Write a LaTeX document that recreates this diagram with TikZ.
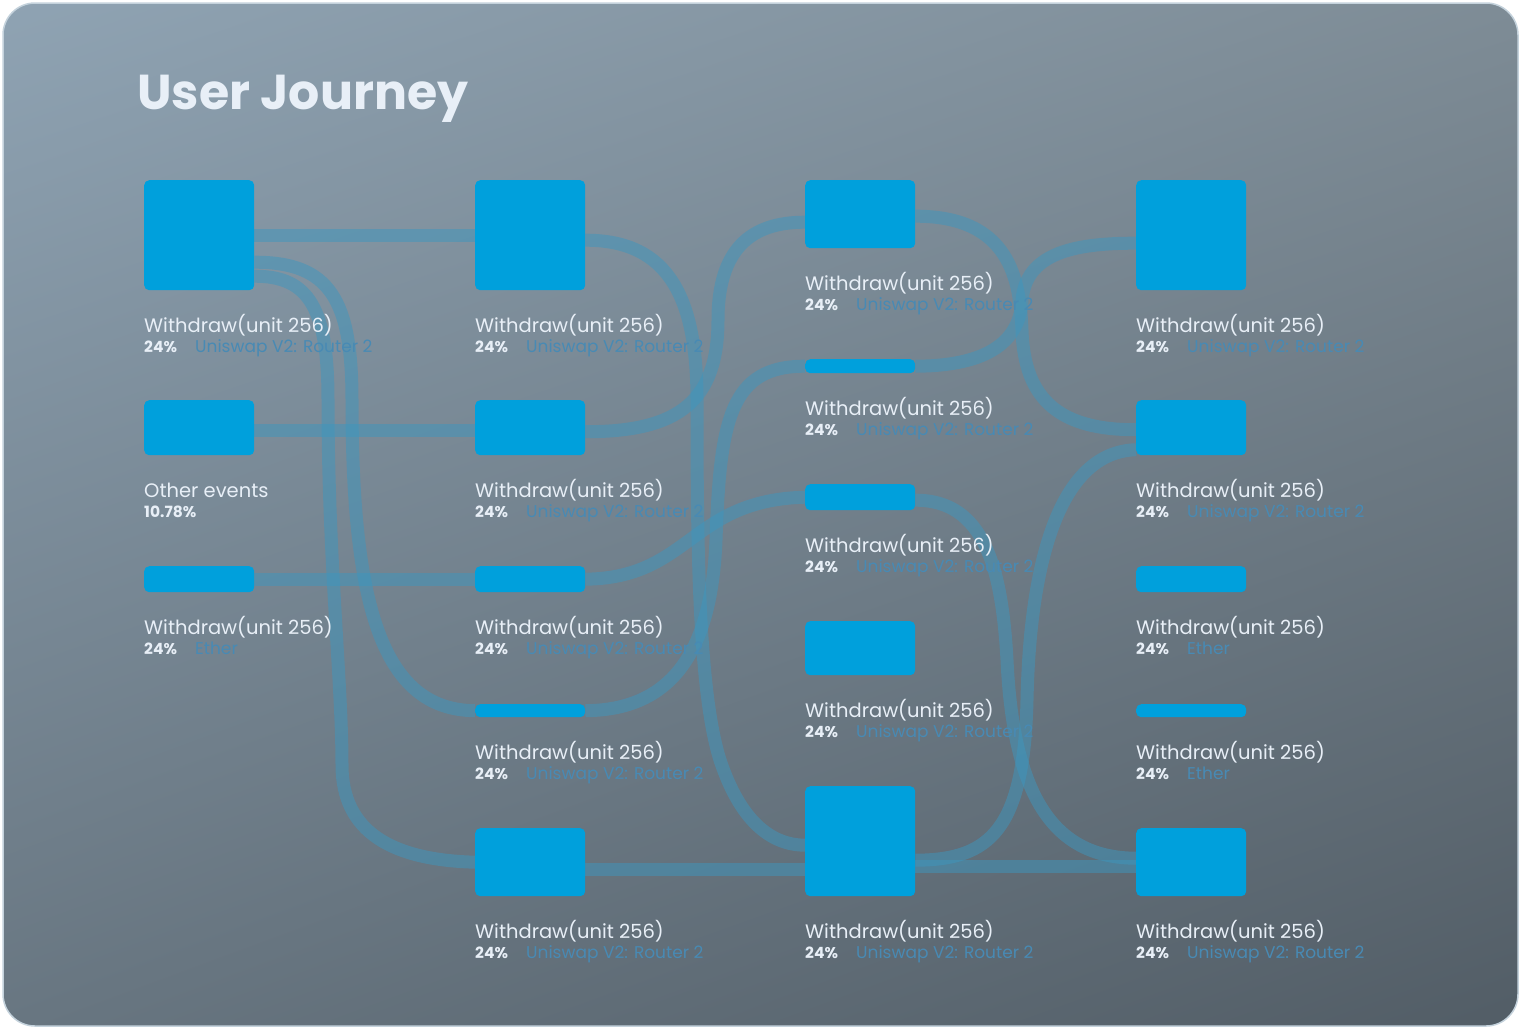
\documentclass[tikz,border=0pt]{standalone}
\usepackage{fontspec}
\setmainfont{Poppins}
\usetikzlibrary{backgrounds,shadings}

\definecolor{boxblue}{RGB}{0,160,220}
\definecolor{flowblue}{RGB}{62,150,190}
\definecolor{bgtl}{RGB}{143,163,179}
\definecolor{bgtr}{RGB}{126,140,150}
\definecolor{bgbl}{RGB}{104,118,129}
\definecolor{bgbr}{RGB}{82,93,102}
\definecolor{framecol}{RGB}{196,210,220}
\definecolor{lbltext}{RGB}{232,239,247}
\definecolor{subblue}{RGB}{72,138,180}

\tikzset{
  box/.style={rectangle, fill=boxblue, rounded corners=5pt, minimum width=110pt, inner sep=0pt, anchor=north west},
  flow/.style={draw=flowblue, line width=13pt, opacity=0.5},
  ttl/.style={anchor=base west, inner sep=0pt, text=lbltext, font=\fontsize{19.5}{24}\selectfont},
  pct/.style={anchor=base west, inner sep=0pt, text=lbltext, font=\fontsize{15.5}{19}\selectfont\bfseries},
  sub/.style={anchor=base west, inner sep=0pt, text=subblue, font=\fontsize{17}{19}\selectfont},
}

% box with its two label lines
\newcommand{\journeybox}[7]{%
  \node[box, minimum height=#4pt] (#1) at (#2,#3) {};
  \node[ttl] (#1-t) at ([yshift=-42pt]#1.south west) {#5};
  \node[pct] (#1-p) at ([yshift=-62pt]#1.south west) {#6};
  \node[sub] (#1-s) at ([xshift=51pt,yshift=-62pt]#1.south west) {#7};
}

\begin{document}
\begin{tikzpicture}[x=1pt,y=-1pt]
  \useasboundingbox (0,0) rectangle (1521,1029);

  \node[anchor=base west, inner sep=0pt, text=lbltext, font=\fontsize{49}{54}\selectfont\bfseries] (title) at (137,109) {User Journey};

  % column 1
  \journeybox{a1}{144}{180}{110}{Withdraw(unit 256)}{24\%}{Uniswap V2: Router 2}
  \journeybox{a2}{144}{400}{55}{Other events}{10.78\%}{}
  \journeybox{a3}{144}{566}{26}{Withdraw(unit 256)}{24\%}{Ether}
  % column 2
  \journeybox{b1}{475}{180}{110}{Withdraw(unit 256)}{24\%}{Uniswap V2: Router 2}
  \journeybox{b2}{475}{400}{55}{Withdraw(unit 256)}{24\%}{Uniswap V2: Router 2}
  \journeybox{b3}{475}{566}{26}{Withdraw(unit 256)}{24\%}{Uniswap V2: Router 2}
  \journeybox{b4}{475}{704}{13}{Withdraw(unit 256)}{24\%}{Uniswap V2: Router 2}
  \journeybox{b5}{475}{828}{68}{Withdraw(unit 256)}{24\%}{Uniswap V2: Router 2}
  % column 3
  \journeybox{c1}{805}{180}{68}{Withdraw(unit 256)}{24\%}{Uniswap V2: Router 2}
  \journeybox{c2}{805}{359}{14}{Withdraw(unit 256)}{24\%}{Uniswap V2: Router 2}
  \journeybox{c3}{805}{484}{26}{Withdraw(unit 256)}{24\%}{Uniswap V2: Router 2}
  \journeybox{c4}{805}{621}{54}{Withdraw(unit 256)}{24\%}{Uniswap V2: Router 2}
  \journeybox{c5}{805}{786}{110}{Withdraw(unit 256)}{24\%}{Uniswap V2: Router 2}
  % column 4
  \journeybox{d1}{1136}{180}{110}{Withdraw(unit 256)}{24\%}{Uniswap V2: Router 2}
  \journeybox{d2}{1136}{400}{55}{Withdraw(unit 256)}{24\%}{Uniswap V2: Router 2}
  \journeybox{d3}{1136}{566}{26}{Withdraw(unit 256)}{24\%}{Ether}
  \journeybox{d4}{1136}{704}{13}{Withdraw(unit 256)}{24\%}{Ether}
  \journeybox{d5}{1136}{828}{68}{Withdraw(unit 256)}{24\%}{Uniswap V2: Router 2}

  \begin{pgfonlayer}{background}
    \fill[white] (0,0) rectangle (1521,1029);
    \shade[upper left=bgtl, upper right=bgtr, lower left=bgbl, lower right=bgbr, rounded corners=32pt] (3,3) rectangle (1518,1026);
    \draw[framecol, line width=1.5pt, rounded corners=32pt] (3,3) rectangle (1518,1026);

    % flows from column 1
    \draw[flow] (a1.east) -- (b1.west);
    \draw[flow] ([yshift=-27pt]a1.east) .. controls (330,262) and (352,300) .. (352,400)
      .. controls (352,600) and (380,710) .. (b4.west);
    \draw[flow] ([yshift=-41pt]a1.east) .. controls (310,276) and (328,310) .. (328,400)
      .. controls (328,560) and (342,680) .. (342,765) .. controls (342,832) and (392,860) .. (b5.west);
    \draw[flow] ([yshift=-3pt]a2.east) -- ([yshift=-3pt]b2.west);
    \draw[flow] (a3.east) -- (b3.west);

    % flows from column 2
    \draw[flow] ([yshift=-5pt]b1.east) .. controls (670,240) and (697,300) .. (697,400)
      .. controls (697,540) and (698,690) .. (720,760) .. controls (740,820) and (770,845) .. ([yshift=-4pt]c5.west);
    \draw[flow] ([yshift=-4pt]b2.east) .. controls (680,432) and (718,400) .. (718,320)
      .. controls (718,250) and (750,222) .. ([yshift=-8pt]c1.west);
    \draw[flow] (b3.east) .. controls (690,578) and (690,500) .. (c3.west);
    \draw[flow] (b4.east) .. controls (680,710) and (712,640) .. (716,540)
      .. controls (720,420) and (730,366) .. (c2.west);
    \draw[flow] ([yshift=-7pt]b5.east) -- ([yshift=-28pt]c5.west);

    % flows from column 3
    \draw[flow] ([yshift=-2pt]c1.east) .. controls (1010,216) and (1020,280) .. (1022,330)
      .. controls (1024,400) and (1060,430) .. ([yshift=-2pt]d2.west);
    \draw[flow] (c2.east) .. controls (990,366) and (1020,340) .. (1022,300)
      .. controls (1026,255) and (1070,243) .. ([yshift=-8pt]d1.west);
    \draw[flow] ([yshift=-3pt]c3.east) .. controls (985,500) and (1002,570) .. (1007,660)
      .. controls (1013,790) and (1050,858) .. ([yshift=4pt]d5.west);
    \draw[flow] ([yshift=-19pt]c5.east) .. controls (990,860) and (1024,830) .. (1027,700)
      .. controls (1030,560) and (1060,452) .. ([yshift=-22pt]d2.west);
    \draw[flow] ([yshift=-25pt]c5.east) -- ([yshift=-4pt]d5.west);
  \end{pgfonlayer}
\end{tikzpicture}
\end{document}
